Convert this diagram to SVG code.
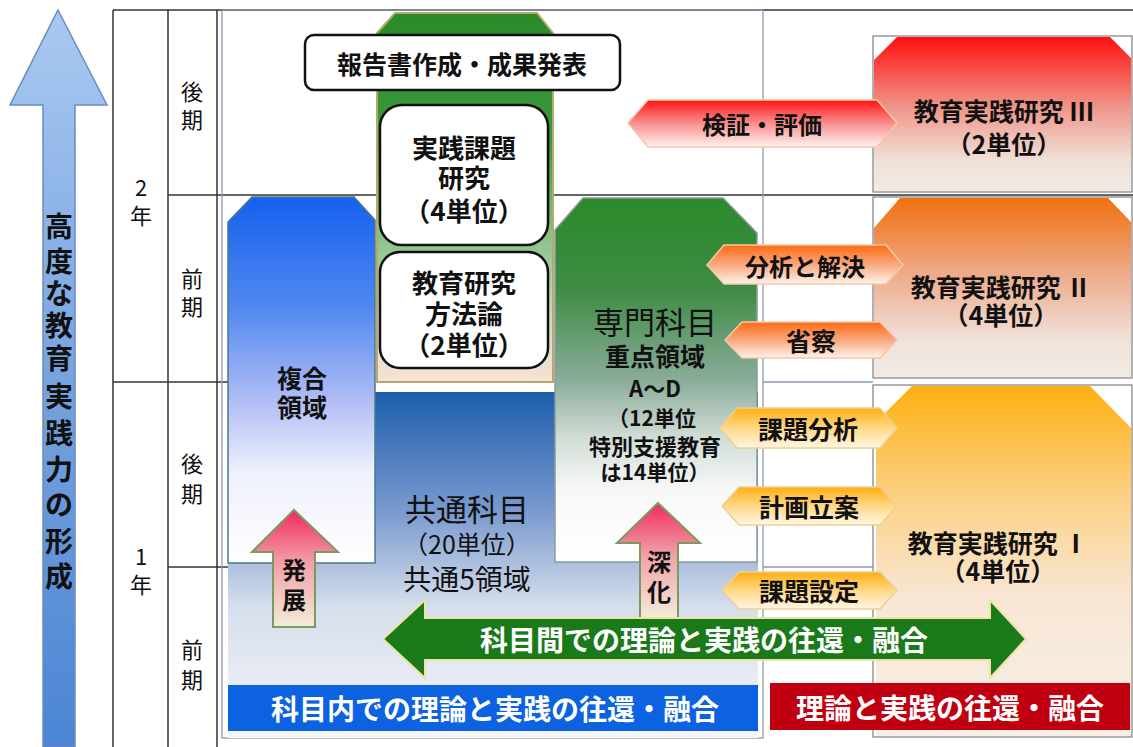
<svg xmlns="http://www.w3.org/2000/svg" width="1133" height="747" viewBox="0 0 1133 747">
<style>
text{font-family:'Noto Sans CJK JP','Noto Sans CJK SC',sans-serif;text-anchor:middle;dominant-baseline:central;fill:#111}
.b{font-weight:bold}
.ax{font-size:22px}
.w{fill:#fff;font-weight:bold}
.grid{stroke:#333;stroke-width:1.5;fill:none}
.frame{stroke:#8a9ab0;stroke-width:1.3;fill:none}
.box{fill:#fff;stroke:#111;stroke-width:2.5}
.outl{fill:none;stroke:#888;stroke-width:1.3}
</style>
<defs>
<linearGradient id="gBig" x1="0" y1="0" x2="0" y2="1"><stop offset="0" stop-color="#a9c9f1"/><stop offset="0.5" stop-color="#77a3de"/><stop offset="1" stop-color="#4b85d4"/></linearGradient>
<linearGradient id="gCol" x1="0" y1="0" x2="0" y2="1"><stop offset="0" stop-color="#2a8a2a"/><stop offset="0.35" stop-color="#3c9a3c"/><stop offset="0.62" stop-color="#8cc48c"/><stop offset="0.82" stop-color="#c8dcc4"/><stop offset="1" stop-color="#f8e2d2"/></linearGradient>
<linearGradient id="gKyo" x1="0" y1="0" x2="0" y2="1"><stop offset="0" stop-color="#1c5eac"/><stop offset="0.35" stop-color="#7b9bcf"/><stop offset="0.62" stop-color="#d6deec"/><stop offset="1" stop-color="#f4f6fa"/></linearGradient>
<linearGradient id="gFuk" x1="0" y1="0" x2="0" y2="1"><stop offset="0" stop-color="#1560ee"/><stop offset="0.3" stop-color="#5088f0"/><stop offset="0.55" stop-color="#aebcf4"/><stop offset="0.75" stop-color="#eef0fc"/><stop offset="1" stop-color="#ffffff"/></linearGradient>
<linearGradient id="gSen" x1="0" y1="0" x2="0" y2="1"><stop offset="0" stop-color="#2a8a2a"/><stop offset="0.25" stop-color="#3e8c44"/><stop offset="0.5" stop-color="#8aac9a"/><stop offset="0.66" stop-color="#d2ddd6"/><stop offset="0.8" stop-color="#f6f8f6"/><stop offset="1" stop-color="#ffffff"/></linearGradient>
<linearGradient id="gUp" x1="0" y1="0" x2="0" y2="1"><stop offset="0" stop-color="#f02a5e"/><stop offset="0.45" stop-color="#f2a0a8"/><stop offset="1" stop-color="#f2ecd8"/></linearGradient>
<linearGradient id="gRed" x1="0" y1="0" x2="0" y2="1"><stop offset="0" stop-color="#ff1414"/><stop offset="0.5" stop-color="#f89090"/><stop offset="1" stop-color="#fff2ee"/></linearGradient>
<linearGradient id="gOrg" x1="0" y1="0" x2="0" y2="1"><stop offset="0" stop-color="#ff6a10"/><stop offset="0.5" stop-color="#f8a880"/><stop offset="1" stop-color="#fff2ea"/></linearGradient>
<linearGradient id="gYel" x1="0" y1="0" x2="0" y2="1"><stop offset="0" stop-color="#ffae10"/><stop offset="0.5" stop-color="#ffd886"/><stop offset="1" stop-color="#fff6e4"/></linearGradient>
<linearGradient id="gB3" x1="0" y1="0" x2="0" y2="1"><stop offset="0" stop-color="#ff1010"/><stop offset="0.45" stop-color="#f09488"/><stop offset="0.8" stop-color="#f0e0d8"/><stop offset="1" stop-color="#f0ebe4"/></linearGradient>
<linearGradient id="gB2" x1="0" y1="0" x2="0" y2="1"><stop offset="0" stop-color="#f07010"/><stop offset="0.45" stop-color="#eeae90"/><stop offset="0.8" stop-color="#f0e2da"/><stop offset="1" stop-color="#f0ebe4"/></linearGradient>
<linearGradient id="gB1" x1="0" y1="0" x2="0" y2="1"><stop offset="0" stop-color="#ffb010"/><stop offset="0.3" stop-color="#fcd080"/><stop offset="0.6" stop-color="#f8e6d4"/><stop offset="1" stop-color="#f8f0e8"/></linearGradient>
</defs>

<g id="grid">
<line class="grid" x1="113" y1="10" x2="1133" y2="10"/>
<line class="grid" x1="113" y1="10" x2="113" y2="747"/>
<line class="grid" x1="168" y1="10" x2="168" y2="747"/>
<line class="grid" x1="217" y1="10" x2="217" y2="747"/>
<line class="grid" x1="168" y1="195" x2="1133" y2="195"/>
<line class="grid" x1="113" y1="382" x2="228" y2="382"/>
<line class="grid" x1="168" y1="567" x2="228" y2="567"/>
<line class="frame" x1="763" y1="382" x2="873" y2="382"/>
<line class="frame" x1="763" y1="567" x2="873" y2="567"/>
<rect class="frame" x="222" y="10" width="541" height="728"/>
</g>

<g id="axis">
<polygon points="58,10 107,105 75,105 75,747 43,747 43,105 10,105" fill="url(#gBig)" stroke="#6a8cc0" stroke-width="1.5"/>
<g class="b" style="font-size:28px">
<text x="59" y="225">高</text><text x="59" y="260">度</text><text x="59" y="292">な</text><text x="59" y="324">教</text><text x="59" y="357">育</text><text x="59" y="395">実</text><text x="59" y="432">践</text><text x="59" y="468">力</text><text x="59" y="503">の</text><text x="59" y="540">形</text><text x="59" y="575">成</text>
</g>
<g class="ax">
<text x="192" y="90">後</text><text x="192" y="118">期</text>
<text x="141" y="186">2</text><text x="141" y="214">年</text>
<text x="192" y="277">前</text><text x="192" y="305">期</text>
<text x="192" y="462">後</text><text x="192" y="492">期</text>
<text x="141" y="555">1</text><text x="141" y="583">年</text>
<text x="192" y="648">前</text><text x="192" y="678">期</text>
</g>
</g>

<g id="kyotsu">
<rect x="228" y="392" width="530" height="346" fill="url(#gKyo)"/>
<text x="467" y="507" style="font-size:31px">共通科目</text>
<text x="467" y="543" style="font-size:25px">（20単位）</text>
<text x="467" y="578" style="font-size:28px">共通5領域</text>
</g>

<g id="jissen-col">
<path d="M377,33 L395,13 L537,13 L553,33 L553,382 L377,382 Z" fill="url(#gCol)" stroke="#b8a870" stroke-width="2"/>
</g>

<g id="houkoku">
<rect class="box" x="305" y="35" width="315" height="55" rx="9"/>
<text class="b" x="462" y="63" style="font-size:25px">報告書作成・成果発表</text>
</g>

<g id="jissen-kadai">
<rect class="box" x="380" y="105" width="168" height="140" rx="22"/>
<g class="b" style="font-size:26px">
<text x="464" y="146">実践課題</text><text x="464" y="176">研究</text><text x="464" y="209">（4単位）</text>
</g>
</g>

<g id="houhouron">
<rect class="box" x="380" y="252" width="168" height="116" rx="20"/>
<g class="b" style="font-size:26px">
<text x="464" y="281">教育研究</text><text x="464" y="312">方法論</text><text x="464" y="343">（2単位）</text>
</g>
</g>

<g id="fukugo">
<path d="M228,222 L252,197 L354,197 L375,220 L375,563 L228,563 Z" fill="url(#gFuk)" stroke="#4a7888" stroke-width="1.5"/>
<g class="b" style="font-size:25px"><text x="302" y="377">複合</text><text x="302" y="406">領域</text></g>
</g>

<g id="senmon">
<path d="M555,230 L583,198 L723,198 L757,233 L757,562 L555,562 Z" fill="url(#gSen)" stroke="#8a9a9a" stroke-width="1.5"/>
<text x="655" y="320" style="font-size:31px">専門科目</text>
<text class="b" x="655" y="355" style="font-size:25px">重点領域</text>
<text class="b" x="655" y="387" style="font-size:22px">A～D</text>
<text class="b" x="652" y="417" style="font-size:21px">（12単位</text>
<text class="b" x="655" y="445" style="font-size:22px">特別支援教育</text>
<text class="b" x="655" y="471" style="font-size:21px">は14単位）</text>
</g>

<g id="jr3">
<rect class="outl" x="873" y="36" width="259" height="156"/>
<path d="M874,60 L897,37 L1110,37 L1131,58 L1131,191 L874,191 Z" fill="url(#gB3)"/>
<text class="b" x="1004" y="110" style="font-size:25px">教育実践研究 Ⅲ</text>
<text class="b" x="1004" y="143" style="font-size:25px">（2単位）</text>
</g>
<g id="jr2">
<rect class="outl" x="873" y="197" width="259" height="181"/>
<path d="M874,228 L900,198 L1108,198 L1131,222 L1131,377 L874,377 Z" fill="url(#gB2)"/>
<text class="b" x="1001" y="286" style="font-size:25px">教育実践研究 Ⅱ</text>
<text class="b" x="1001" y="314" style="font-size:25px">（4単位）</text>
</g>
<g id="jr1">
<rect class="outl" x="873" y="385" width="259" height="352"/>
<path d="M876,422 L912,386 L1090,386 L1131,428 L1131,736 L876,736 Z" fill="url(#gB1)"/>
<text class="b" x="998" y="542" style="font-size:25px">教育実践研究 Ⅰ</text>
<text class="b" x="998" y="570" style="font-size:25px">（4単位）</text>
</g>

<g id="bars">
<rect x="228" y="685" width="530" height="46" fill="#0c62e0"/>
<text class="w" x="495" y="708" style="font-size:28px">科目内での理論と実践の往還・融合</text>
<rect x="770" y="683" width="360" height="47" fill="#c00010"/>
<text class="w" x="950" y="707" style="font-size:28px">理論と実践の往還・融合</text>
</g>

<g id="steps">
<polygon points="628,123 648,100 877,100 897,123 877,147 648,147" fill="url(#gRed)" stroke="#f4c8a8" stroke-width="1.5"/>
<text class="b" x="762" y="123" style="font-size:24px">検証・評価</text>
<polygon points="707,265 724,245 886,245 903,265 886,284 724,284" fill="url(#gOrg)" stroke="#f4c8a8" stroke-width="1.5"/>
<text class="b" x="805" y="265" style="font-size:24px">分析と解決</text>
<polygon points="725,340 742,322 880,322 897,340 880,358 742,358" fill="url(#gOrg)" stroke="#f4c8a8" stroke-width="1.5"/>
<text class="b" x="811" y="340" style="font-size:25px">省察</text>
<polygon points="720,428 737,408 880,408 897,428 880,448 737,448" fill="url(#gYel)" stroke="#ecd098" stroke-width="1.5"/>
<text class="b" x="808" y="428" style="font-size:25px">課題分析</text>
<polygon points="722,506 739,487 880,487 897,506 880,525 739,525" fill="url(#gYel)" stroke="#ecd098" stroke-width="1.5"/>
<text class="b" x="809" y="506" style="font-size:25px">計画立案</text>
<polygon points="722,590 739,572 880,572 897,590 880,609 739,609" fill="url(#gYel)" stroke="#ecd098" stroke-width="1.5"/>
<text class="b" x="809" y="590" style="font-size:25px">課題設定</text>
</g>

<g id="connectors">
<polygon points="294,510 338,552 315,552 315,627 273,627 273,552 252,552" fill="url(#gUp)" stroke="#7a9a60" stroke-width="2"/>
<text class="b" x="294" y="568" style="font-size:24px">発</text>
<text class="b" x="294" y="598" style="font-size:24px">展</text>
<polygon points="658,503 700,543 678,543 678,618 640,618 640,543 617,543" fill="url(#gUp)" stroke="#7a9a60" stroke-width="2"/>
<text class="b" x="659" y="560" style="font-size:24px">深</text>
<text class="b" x="659" y="590" style="font-size:24px">化</text>
<polygon points="383,639 425,600 425,618 990,618 990,600 1026,639 990,678 990,660 425,660 425,678" fill="#1a7a1a" stroke="#ece4a4" stroke-width="2"/>
<text class="w" x="704" y="639" style="font-size:28px">科目間での理論と実践の往還・融合</text>
</g>
</svg>
